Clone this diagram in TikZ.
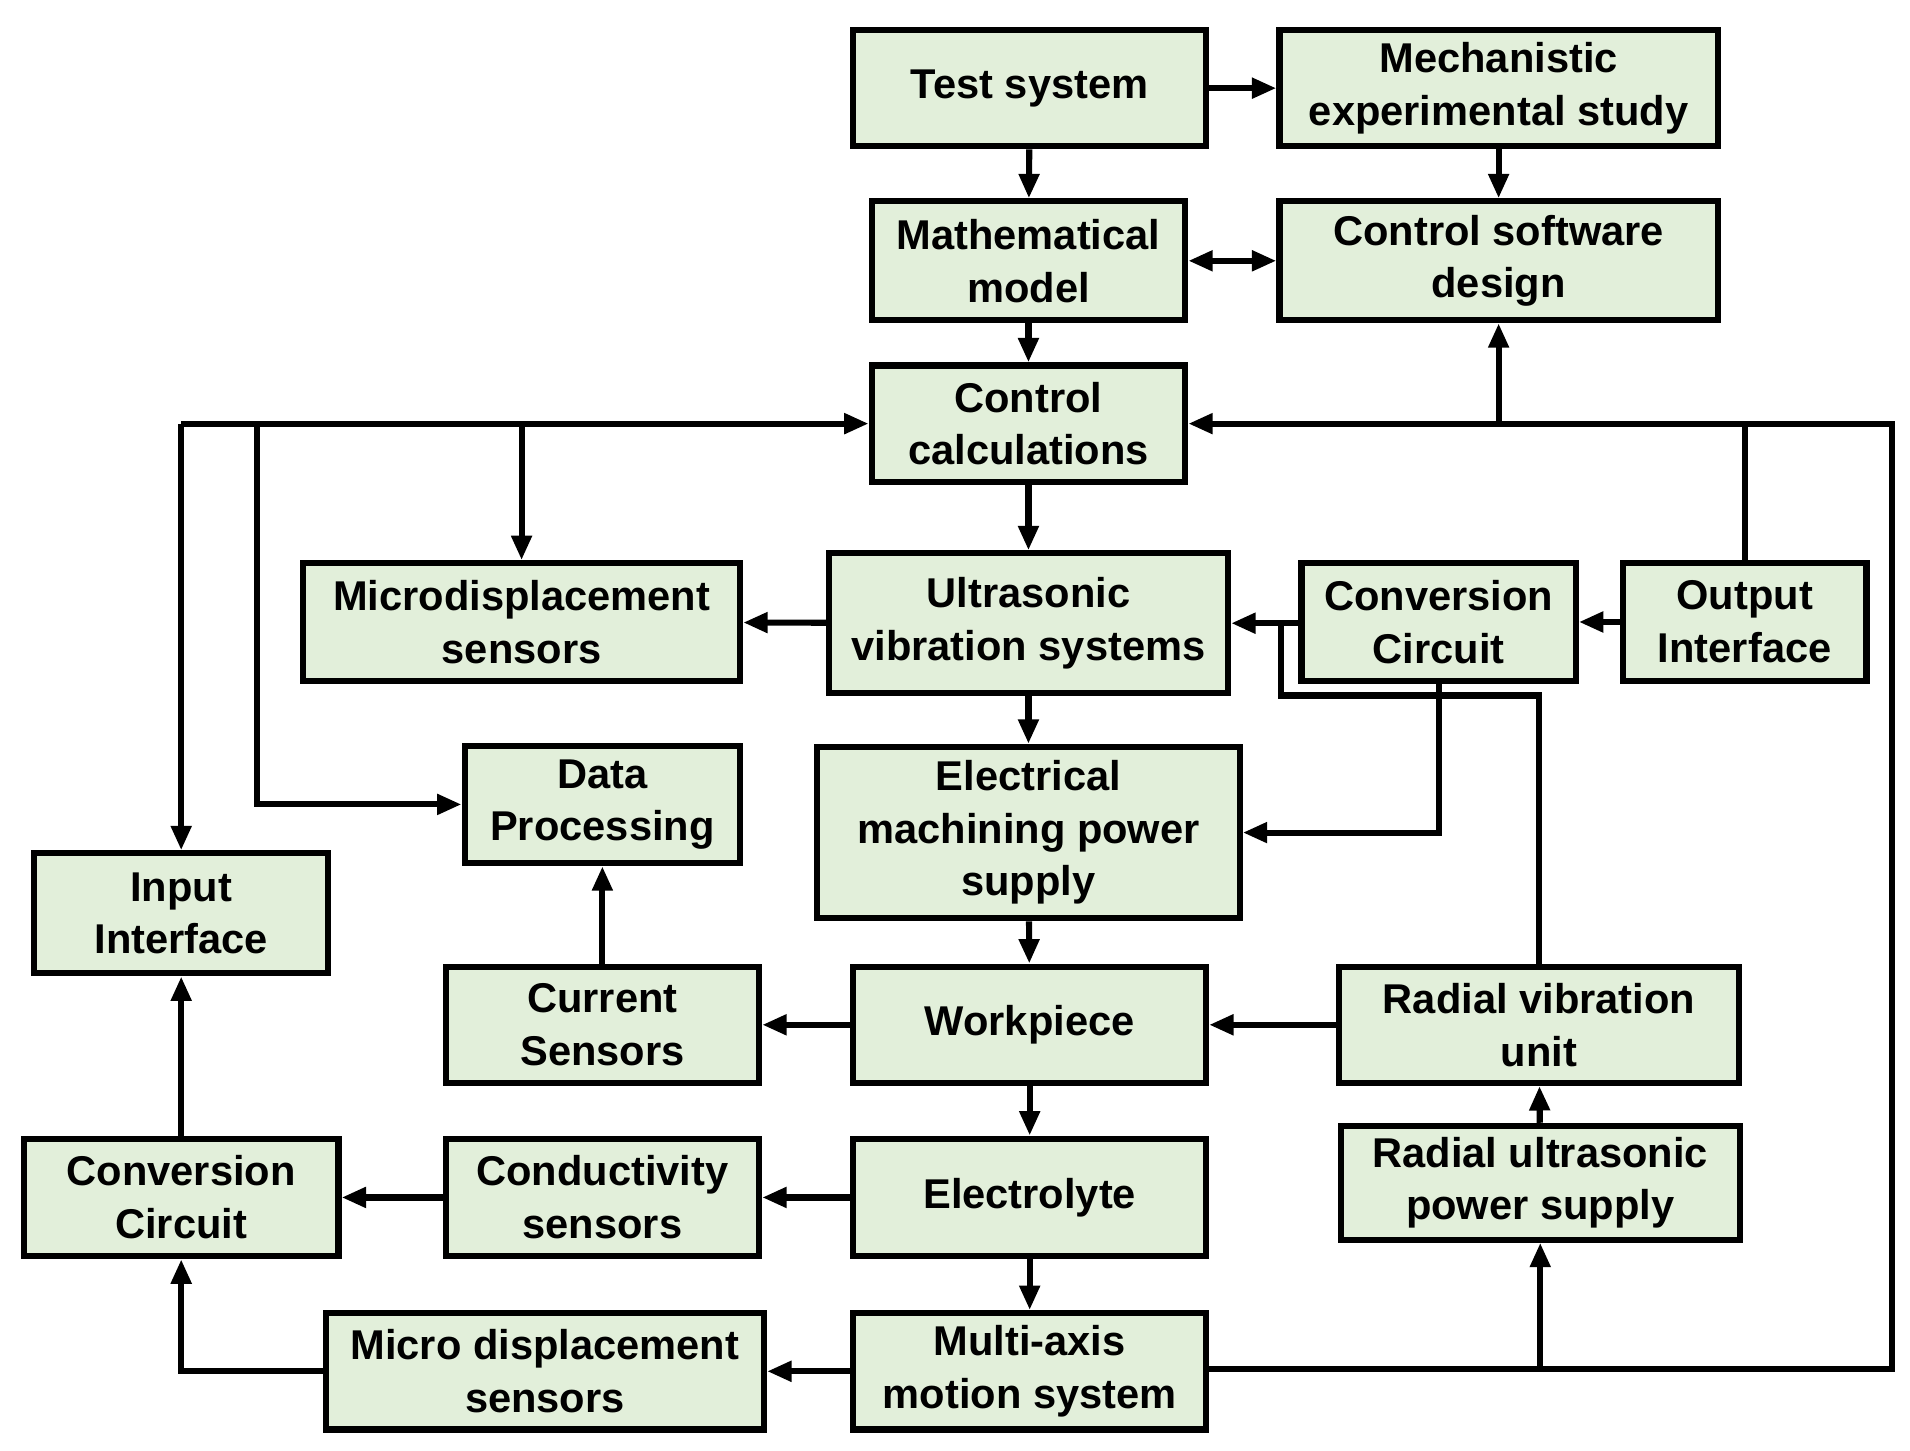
\documentclass[tikz,border=0pt]{standalone}
\usepackage{fontspec}
\setmainfont{Liberation Sans}
\usetikzlibrary{arrows.meta}
\definecolor{boxg}{HTML}{E2EFDA}
\begin{document}
\begin{tikzpicture}[x=0.5pt,y=-0.5pt,
  box/.style={draw=black,line width=2.5pt,fill=boxg,align=center,inner sep=0pt,
    font=\bfseries\fontsize{17}{21.5}\selectfont},
  ln/.style={line width=2.5pt},
  ar/.style={line width=2.5pt,-{Triangle[length=10pt,width=8pt]}}]
\useasboundingbox (0,0) rectangle (1560,1185);
\newcommand\bx[6]{\node[box,minimum width=#4*0.5pt,minimum height=#5*0.5pt] (#1) at (#2,#3) {#6};}
\bx{test}{841}{72}{288}{95}{Test system}
\bx{mech}{1224}{72}{358}{95}{Mechanistic\\experimental study}
\bx{math}{840}{213}{256}{97}{Mathematical\\model}
\bx{csd}{1224}{213}{358}{97}{Control software\\design}
\bx{calc}{840}{346}{256}{95}{Control\\calculations}
\bx{micro}{426}{508}{357}{96}{Microdisplacement\\sensors}
\bx{uvs}{840}{509}{326}{114}{Ultrasonic\\vibration systems}
\bx{conv1}{1175}{508}{224}{96}{Conversion\\Circuit}
\bx{out}{1425}{508}{199}{96}{Output\\Interface}
\bx{data}{492}{657}{225}{96}{Data\\Processing}
\bx{emps}{840}{680}{345}{140}{Electrical\\machining power\\supply}
\bx{input}{148}{746}{240}{98}{Input\\Interface}
\bx{cur}{492}{837}{256}{95}{Current\\Sensors}
\bx{work}{841}{837}{288}{95}{Workpiece}
\bx{rvu}{1257}{837}{327}{95}{Radial vibration\\unit}
\bx{conv2}{148}{978}{257}{96}{Conversion\\Circuit}
\bx{cond}{492}{978}{256}{96}{Conductivity\\sensors}
\bx{elec}{841}{978}{288}{96}{Electrolyte}
\bx{rups}{1258}{966}{326}{93}{Radial ultrasonic\\power supply}
\bx{mds}{445}{1120}{358}{95}{Micro displacement\\sensors}
\bx{mams}{841}{1120}{288}{95}{Multi-axis\\motion system}

\draw[ar] (test) -- (mech);
\draw[ar] (test) -- (math);
\draw[ar] (mech) -- (csd);
\draw[line width=2.5pt,{Triangle[length=10pt,width=8pt]}-{Triangle[length=10pt,width=8pt]}] (math) -- (csd);
\draw[ar] (math) -- (calc);
\draw[ar] (calc) -- (uvs);
\draw[ar] (uvs) -- (micro);
\draw[ar] (uvs) -- (emps);
\draw[ar] (emps) -- (work);
\draw[ar] (work) -- (cur);
\draw[ar] (cur) -- (data);
\draw[ar] (work) -- (elec);
\draw[ar] (elec) -- (cond);
\draw[ar] (cond) -- (conv2);
\draw[ar] (conv2) -- (input);
\draw[ar] (elec) -- (mams);
\draw[ar] (mams) -- (mds);
\draw[ar] (mds.west) -| (conv2.south);
\draw[ar] (rups) -- (rvu);
\draw[ar] (rvu) -- (work);
\draw[ar] (out) -- (conv1);
\draw[ar] (conv1.west|-uvs.east) -- (uvs.east);
\coordinate (j1) at (1046,508);
\draw[ln] (rvu.north) |- (1046,568) -- (j1);
\draw[ar] (conv1.south) |- (emps.east);
% right loop
\coordinate (r1) at (1545,1118);
\coordinate (r2) at (1545,346);
\draw[ar] (mams.east|-r1) -- (r1) -- (r2) -- (calc.east|-r2);
\draw[ar] (1258,1118) -- (rups.south);
\draw[ar] (1224,346) -- (csd.south);
\draw[ln] (out.north) -- (1425,346);
% left loop
\coordinate (l1) at (148,346);
\draw[ar] (l1) -- (calc.west|-l1);
\draw[ar] (l1) -- (input.north);
\draw[ar] (210,346) |- (data.west);
\draw[ar] (426,346) -- (micro.north);
\end{tikzpicture}
\end{document}
